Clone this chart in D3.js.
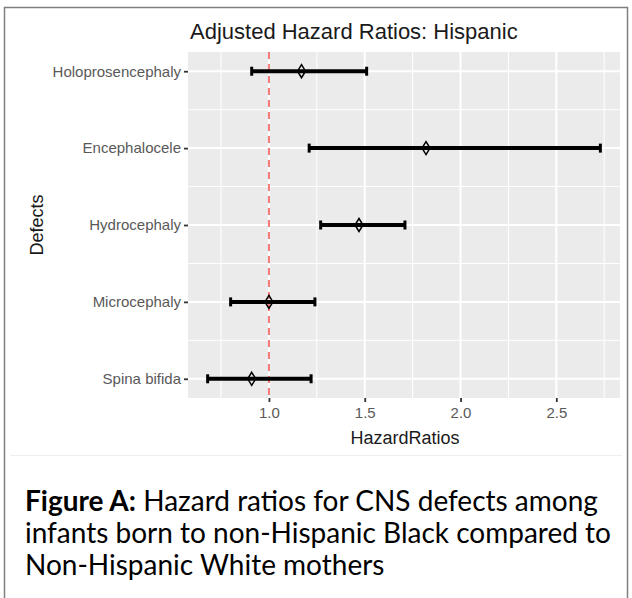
<!DOCTYPE html>
<html>
<head>
<meta charset="utf-8">
<script src="https://cdn.jsdelivr.net/npm/d3@7"></script>
<style>
  html, body { margin: 0; padding: 0; background: #ffffff; }
  svg { display: block; }
</style>
</head>
<body>
<svg id="chart" width="632" height="598"></svg>
<script>
// ---- data ----
const defects = ["Holoprosencephaly", "Encephalocele", "Hydrocephaly", "Microcephaly", "Spina bifida"];
const hazardRatios = [1.17, 1.82, 1.47, 1.00, 0.91];
const lowerCI = [0.91, 1.21, 1.27, 0.80, 0.68];
const upperCI = [1.51, 2.73, 1.71, 1.24, 1.22];
const xTicks = [1.0, 1.5, 2.0, 2.5];
const xMinorTicks = [0.75, 1.25, 1.75, 2.25, 2.75];
const referenceLine = 1.0;
const titleText = "Adjusted Hazard Ratios: Hispanic";
const xTitle = "HazardRatios";
const yTitle = "Defects";
const captionBold = "Figure A:";
const captionLines = [
  " Hazard ratios for CNS defects among",
  "infants born to non-Hispanic Black compared to",
  "Non-Hispanic White mothers"
];

const rows = defects.map((d, i) => ({ defect: d, hr: hazardRatios[i], lo: lowerCI[i], hi: upperCI[i] }));

const SANS = "'Liberation Sans', Arimo, Arial, Helvetica, sans-serif";
const svg = d3.select("#chart");
const panel = { left: 188, right: 620, top: 52, bottom: 398 };

// outer frame
svg.append("rect")
  .attr("x", 4.5).attr("y", 7.5)
  .attr("width", 623).attr("height", 600)
  .attr("fill", "none").attr("stroke", "#808080").attr("stroke-width", 1.5);

// faint separator under chart image
svg.append("line")
  .attr("x1", 10).attr("x2", 622).attr("y1", 455.5).attr("y2", 455.5)
  .attr("stroke", "#eeeeee").attr("stroke-width", 1);

// scales
const dataMin = d3.min(lowerCI), dataMax = d3.max(upperCI);
const pad = (dataMax - dataMin) * 0.05;
const x = d3.scaleLinear().domain([dataMin - pad, dataMax + pad]).range([panel.left, panel.right]);
const y = d3.scalePoint().domain(defects).range([panel.top, panel.bottom]).padding(0.25);

// panel background
svg.append("rect")
  .attr("x", panel.left).attr("y", panel.top)
  .attr("width", panel.right - panel.left).attr("height", panel.bottom - panel.top)
  .attr("fill", "#ebebeb");

const grid = svg.append("g");
grid.selectAll("line.xminor").data(xMinorTicks).join("line")
  .attr("x1", d => x(d)).attr("x2", d => x(d))
  .attr("y1", panel.top).attr("y2", panel.bottom)
  .attr("stroke", "#ffffff").attr("stroke-width", 1);
const yMinor = d3.pairs(defects).map(([a, b]) => (y(a) + y(b)) / 2);
grid.selectAll("line.yminor").data(yMinor).join("line")
  .attr("x1", panel.left).attr("x2", panel.right)
  .attr("y1", d => d).attr("y2", d => d)
  .attr("stroke", "#ffffff").attr("stroke-width", 1);
grid.selectAll("line.xmajor").data(xTicks).join("line")
  .attr("x1", d => x(d)).attr("x2", d => x(d))
  .attr("y1", panel.top).attr("y2", panel.bottom)
  .attr("stroke", "#ffffff").attr("stroke-width", 2);
grid.selectAll("line.ymajor").data(defects).join("line")
  .attr("x1", panel.left).attr("x2", panel.right)
  .attr("y1", d => y(d)).attr("y2", d => y(d))
  .attr("stroke", "#ffffff").attr("stroke-width", 2);

// axes
const xAxis = d3.axisBottom(x).tickValues(xTicks).tickFormat(d3.format(".1f")).tickSize(4).tickPadding(5);
const gx = svg.append("g").attr("transform", `translate(0,${panel.bottom})`).call(xAxis);
gx.select(".domain").remove();
gx.selectAll(".tick line").attr("stroke", "#333333").attr("stroke-width", 1.8);
gx.selectAll(".tick text").attr("fill", "#595959").style("font-family", SANS).style("font-size", "15px");

const yAxis = d3.axisLeft(y).tickSize(4).tickPadding(3);
const gy = svg.append("g").attr("transform", `translate(${panel.left},0)`).call(yAxis);
gy.select(".domain").remove();
gy.selectAll(".tick line").attr("stroke", "#333333").attr("stroke-width", 1.8);
gy.selectAll(".tick text").attr("fill", "#595959").style("font-family", SANS).style("font-size", "15px");

// reference line
svg.append("line")
  .attr("x1", x(referenceLine)).attr("x2", x(referenceLine))
  .attr("y1", panel.top).attr("y2", panel.bottom)
  .attr("stroke", "#f47a7a").attr("stroke-width", 2)
  .attr("stroke-dasharray", "7,5");

// error bars
const eb = svg.append("g");
eb.selectAll("line.bar").data(rows).join("line")
  .attr("x1", d => x(d.lo)).attr("x2", d => x(d.hi))
  .attr("y1", d => y(d.defect)).attr("y2", d => y(d.defect))
  .attr("stroke", "#000000").attr("stroke-width", 4);
eb.selectAll("line.capl").data(rows).join("line")
  .attr("x1", d => x(d.lo)).attr("x2", d => x(d.lo))
  .attr("y1", d => y(d.defect) - 4.5).attr("y2", d => y(d.defect) + 4.5)
  .attr("stroke", "#000000").attr("stroke-width", 3);
eb.selectAll("line.caph").data(rows).join("line")
  .attr("x1", d => x(d.hi)).attr("x2", d => x(d.hi))
  .attr("y1", d => y(d.defect) - 4.5).attr("y2", d => y(d.defect) + 4.5)
  .attr("stroke", "#000000").attr("stroke-width", 3);

// open diamond points
const dw = 4, dh = 6.5;
eb.selectAll("path.pt").data(rows).join("path")
  .attr("d", d => {
    const cx = x(d.hr), cy = y(d.defect);
    return `M${cx},${cy - dh}L${cx + dw},${cy}L${cx},${cy + dh}L${cx - dw},${cy}Z`;
  })
  .attr("fill", "none").attr("stroke", "#000000").attr("stroke-width", 1.5);

// titles
svg.append("text")
  .attr("x", panel.left + 2).attr("y", 38.5)
  .style("font-family", SANS).style("font-size", "22px")
  .attr("fill", "#1a1a1a")
  .text(titleText);

svg.append("text")
  .attr("x", (panel.left + panel.right) / 2 + 1).attr("y", 444)
  .attr("text-anchor", "middle")
  .style("font-family", SANS).style("font-size", "18px")
  .attr("fill", "#1a1a1a")
  .text(xTitle);

svg.append("text")
  .attr("transform", `translate(43,${(panel.top + panel.bottom) / 2}) rotate(-90)`)
  .attr("text-anchor", "middle")
  .style("font-family", SANS).style("font-size", "18px")
  .attr("fill", "#1a1a1a")
  .text(yTitle);

// caption
const cap = svg.append("g").style("font-family", "Lato, 'Noto Sans', sans-serif").style("font-size", "28px").attr("fill", "#000000");
const t0 = cap.append("text").attr("x", 25).attr("y", 511);
t0.append("tspan").attr("font-weight", "bold").text(captionBold);
t0.append("tspan").text(captionLines[0]);
cap.append("text").attr("x", 25).attr("y", 543).text(captionLines[1]);
cap.append("text").attr("x", 25).attr("y", 575).text(captionLines[2]);
</script>
</body>
</html>
